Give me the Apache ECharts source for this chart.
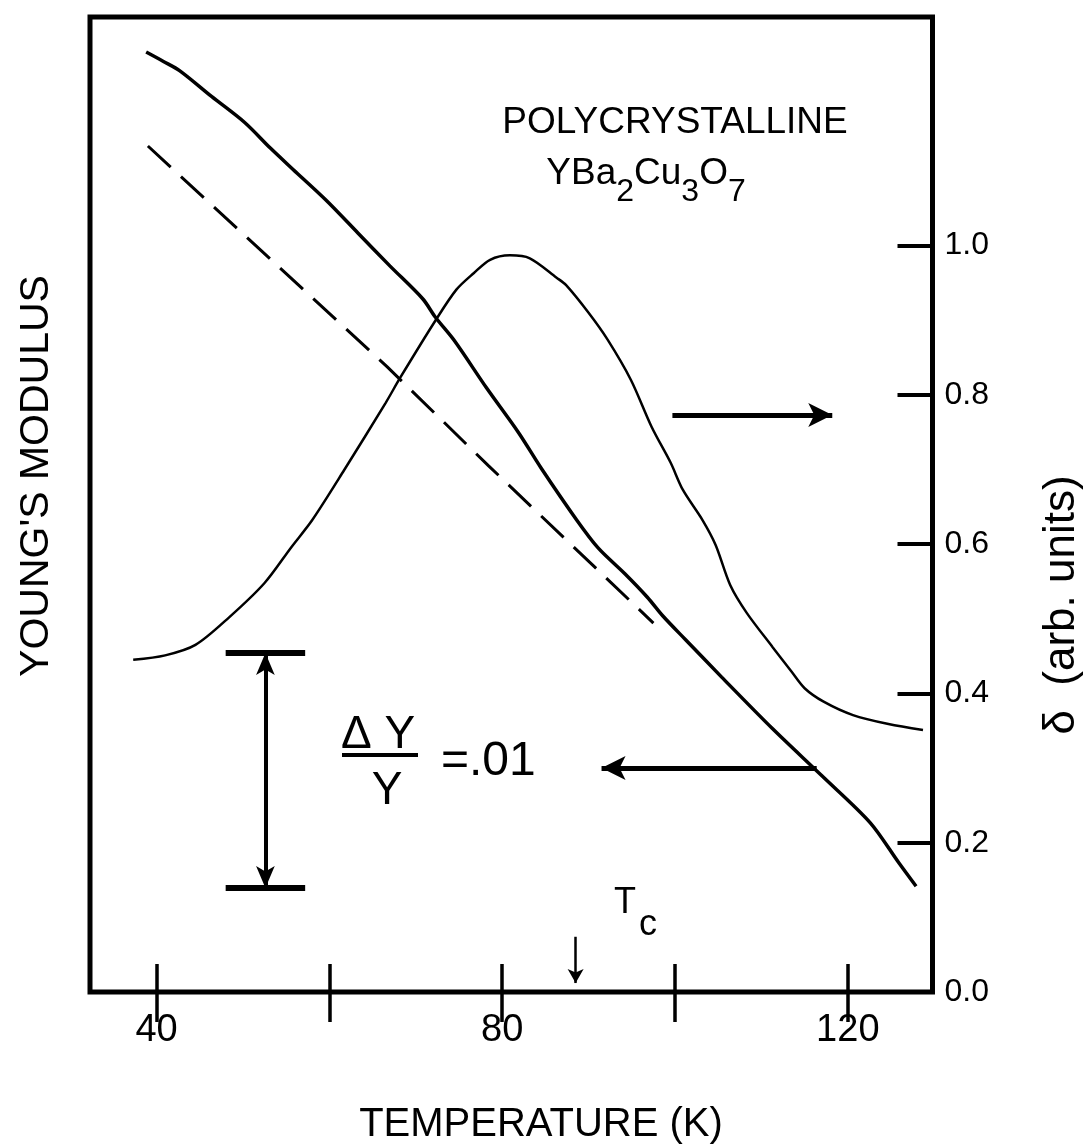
<!DOCTYPE html>
<html><head><meta charset="utf-8">
<script src="https://cdn.jsdelivr.net/npm/echarts@6/dist/echarts.min.js"></script>
<style>html,body{margin:0;padding:0;background:#fff}#c{width:1092px;height:1145px}</style>
</head><body><div id="c"></div>
<script>
// Temperature (K) and Young's modulus (relative, units of 0.01 = ΔY/Y)
const tempYoung = [38.8, 40.8, 42.7, 46.4, 50.2, 53.2, 55.8, 59.6, 63.3, 67.0, 70.8, 72.3, 74.5, 78.2, 81.9, 84.5, 88.6, 91.1, 94.2, 96.8, 98.6, 101.2, 105.4, 111.3, 117.0, 122.6, 125.9, 127.9];
const young     = [4.00, 3.96, 3.92, 3.81, 3.70, 3.59, 3.50, 3.37, 3.23, 3.09, 2.95, 2.87, 2.77, 2.57, 2.38, 2.23, 2.01, 1.89, 1.78, 1.68, 1.60, 1.50, 1.34, 1.12, 0.92, 0.72, 0.55, 0.45];
// dashed extrapolated background
const tempDashed = [39.0, 66.7, 78.4, 97.5];
const dashed     = [3.60, 2.66, 2.24, 1.57];
// internal friction delta (arb. units)
const tempDelta = [37.3, 41.0, 44.5, 48.4, 52.5, 55.6, 58.0, 61.7, 66.5, 68.2, 72.3, 74.7, 76.7, 78.6, 80.9, 83.2, 86.3, 87.4, 90.0, 92.2, 94.9, 97.3, 99.5, 100.9, 103.2, 104.7, 106.4, 108.3, 111.3, 113.5, 115.0, 117.2, 120.6, 124.7, 128.7];
const delta     = [0.445, 0.451, 0.465, 0.502, 0.548, 0.596, 0.632, 0.699, 0.789, 0.823, 0.900, 0.941, 0.963, 0.981, 0.987, 0.983, 0.957, 0.947, 0.910, 0.874, 0.820, 0.757, 0.709, 0.673, 0.632, 0.599, 0.545, 0.508, 0.462, 0.429, 0.407, 0.389, 0.371, 0.359, 0.351];
// axis ticks
const xTicks = [40, 60, 80, 100, 120];
const xLabels = [40, 80, 120];
const deltaTicks = [0.2, 0.4, 0.6, 0.8, 1.0];
const deltaLabels = [0.0, 0.2, 0.4, 0.6, 0.8, 1.0];
// scale bar (ΔY/Y = .01) and annotation arrows
const scaleBarT = 52.6, scaleBarLow = 0.443, scaleBarHigh = 1.443, scaleBarLeft = 48.0, scaleBarRight = 57.2;
const arrowRight = {t0: 99.7, t1: 118.2, d: 0.773};
const arrowLeft  = {t0: 116.4, t1: 91.5, d: 0.300};
const tc = 88.5, tcArrowTop = 0.074, tcArrowBottom = 0.012;

const FONT = "'Liberation Sans', Arial, Helvetica, sans-serif";
const zip = (a, b) => a.map((v, i) => [v, b[i]]);
const mctx = document.createElement('canvas').getContext('2d');
const textWidth = (t, size) => { mctx.font = size + 'px ' + FONT; return mctx.measureText(t).width; };

// chemical formula with subscripts, laid out piece by piece
function formula(pieces, cx, cy, big, small, drop) {
  const total = pieces.reduce((s, p) => s + textWidth(p[0], p[1] ? small : big), 0);
  let x = cx - total / 2;
  return pieces.map(p => {
    const size = p[1] ? small : big;
    const el = {type: 'text', silent: true, x: x, y: cy + (p[1] ? drop : 0),
      style: {text: p[0], font: size + 'px ' + FONT, fill: '#000', align: 'left', verticalAlign: 'middle'}};
    x += textWidth(p[0], size);
    return el;
  });
}

const chart = echarts.init(document.getElementById('c'), null, {renderer: 'canvas'});
const noLabel = {show: false};
chart.setOption({
  animation: false,
  backgroundColor: '#fff',
  grid: {left: 90, right: 159.5, top: 17, bottom: 153, show: true, borderColor: '#000', borderWidth: 5, backgroundColor: 'transparent'},
  xAxis: [
    {type: 'value', min: 32.3, max: 129.8, position: 'bottom',
     axisLine: {show: false}, splitLine: {show: false},
     axisTick: {show: true, inside: true, length: 28, lineStyle: {color: '#000', width: 3.5}, customValues: xTicks},
     axisLabel: {show: true, customValues: xLabels, fontSize: 38, fontFamily: FONT, color: '#000', margin: 20}},
    {type: 'value', min: 32.3, max: 129.8, position: 'top',
     axisLine: {show: false}, splitLine: {show: false},
     axisTick: {show: true, inside: true, length: 30, lineStyle: {color: '#000', width: 3.5}, customValues: xTicks},
     axisLabel: {show: false}}
  ],
  yAxis: [
    {type: 'value', min: 0, max: 4.149, position: 'left',
     axisLine: {show: false}, splitLine: {show: false}, axisTick: {show: false}, axisLabel: {show: false}},
    {type: 'value', min: 0, max: 1.3063, position: 'right',
     axisLine: {show: false}, splitLine: {show: false},
     axisTick: {show: true, inside: true, length: 35, lineStyle: {color: '#000', width: 4}, customValues: deltaTicks},
     axisLabel: {show: true, customValues: deltaLabels, formatter: v => Number(v).toFixed(1), fontSize: 32, fontFamily: FONT, color: '#000', margin: 12}}
  ],
  series: [
    {name: 'Young', type: 'line', xAxisIndex: 0, yAxisIndex: 0, data: zip(tempYoung, young), smooth: 0.3,
     symbol: 'none', lineStyle: {color: '#000', width: 3.5}, silent: true},
    {name: 'Background', type: 'line', xAxisIndex: 0, yAxisIndex: 0, data: zip(tempDashed, dashed), smooth: false,
     symbol: 'none', lineStyle: {color: '#000', width: 3, type: [31, 14]}, silent: true},
    {name: 'Delta', type: 'line', xAxisIndex: 0, yAxisIndex: 1, data: zip(tempDelta, delta), smooth: 0.3,
     symbol: 'none', lineStyle: {color: '#000', width: 2.5}, silent: true,
     markLine: {silent: true, animation: false, label: noLabel,
       data: [
         [{coord: [arrowRight.t0, arrowRight.d], symbol: 'none', lineStyle: {color: '#000', width: 5, type: 'solid'}},
          {coord: [arrowRight.t1, arrowRight.d], symbol: 'arrow', symbolSize: [18, 24]}],
         [{coord: [arrowLeft.t0, arrowLeft.d], symbol: 'none', lineStyle: {color: '#000', width: 5, type: 'solid'}},
          {coord: [arrowLeft.t1, arrowLeft.d], symbol: 'arrow', symbolSize: [18, 24]}],
         [{coord: [tc, tcArrowTop], symbol: 'none', lineStyle: {color: '#000', width: 2.5, type: 'solid'}},
          {coord: [tc, tcArrowBottom], symbol: 'arrow', symbolSize: [12, 14]}]
       ]}},
    {name: 'ScaleBar', type: 'line', xAxisIndex: 0, yAxisIndex: 0, data: [], silent: true,
     markLine: {silent: true, animation: false, label: noLabel,
       data: [
         [{coord: [scaleBarT, scaleBarLow], symbol: 'arrow', symbolSize: [14, 22], lineStyle: {color: '#000', width: 4, type: 'solid'}},
          {coord: [scaleBarT, scaleBarHigh], symbol: 'arrow', symbolSize: [14, 22]}],
         [{coord: [scaleBarLeft, scaleBarHigh], symbol: 'none', lineStyle: {color: '#000', width: 6, type: 'solid'}},
          {coord: [scaleBarRight, scaleBarHigh], symbol: 'none'}],
         [{coord: [scaleBarLeft, scaleBarLow], symbol: 'none', lineStyle: {color: '#000', width: 6, type: 'solid'}},
          {coord: [scaleBarRight, scaleBarLow], symbol: 'none'}]
       ]}}
  ],
  graphic: [
    {type: 'text', silent: true, x: 675, y: 123, style: {text: 'POLYCRYSTALLINE', font: '37px ' + FONT, fill: '#000', align: 'center', verticalAlign: 'middle'}},
    ...formula([['YBa', 0], ['2', 1], ['Cu', 0], ['3', 1], ['O', 0], ['7', 1]], 646, 174, 37, 32, 18),
    {type: 'text', silent: true, x: 378, y: 735, style: {text: 'Δ Y', font: '46px ' + FONT, fill: '#000', align: 'center', verticalAlign: 'middle'}},
    {type: 'line', silent: true, shape: {x1: 342, y1: 755, x2: 418, y2: 755}, style: {stroke: '#000', lineWidth: 4}},
    {type: 'text', silent: true, x: 387, y: 791, style: {text: 'Y', font: '46px ' + FONT, fill: '#000', align: 'center', verticalAlign: 'middle'}},
    {type: 'text', silent: true, x: 441, y: 762, style: {text: '=.01', font: '48px ' + FONT, fill: '#000', align: 'left', verticalAlign: 'middle'}},
    {type: 'text', silent: true, x: 614, y: 903, style: {text: 'T', font: '36px ' + FONT, fill: '#000', align: 'left', verticalAlign: 'middle'}},
    {type: 'text', silent: true, x: 639, y: 925, style: {text: 'c', font: '36px ' + FONT, fill: '#000', align: 'left', verticalAlign: 'middle'}},
    {type: 'text', silent: true, x: 541, y: 1125, style: {text: 'TEMPERATURE (K)', font: '40px ' + FONT, fill: '#000', align: 'center', verticalAlign: 'middle'}},
    {type: 'text', silent: true, x: 37, y: 476, rotation: Math.PI / 2, style: {text: "YOUNG'S MODULUS", font: '41px ' + FONT, fill: '#000', align: 'center', verticalAlign: 'middle'}},
    {type: 'text', silent: true, x: 1062, y: 605, rotation: Math.PI / 2, style: {text: 'δ  (arb. units)', font: '44px ' + FONT, fill: '#000', align: 'center', verticalAlign: 'middle'}}
  ]
});
</script></body></html>
